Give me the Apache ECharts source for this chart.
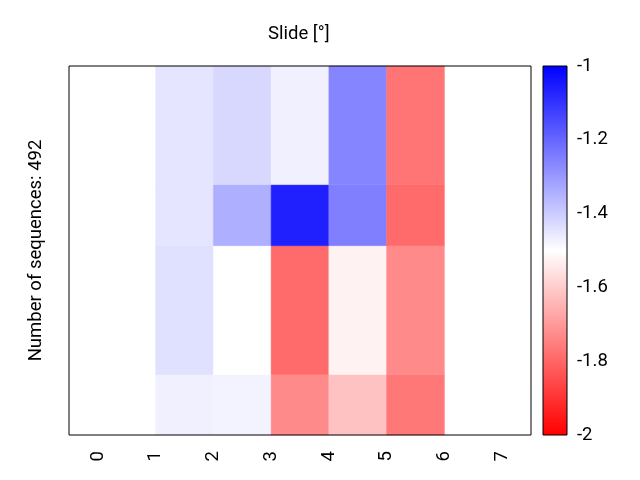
<!DOCTYPE html>
<html>
<head>
<meta charset="utf-8">
<script src="https://cdn.jsdelivr.net/npm/echarts@6/dist/echarts.min.js"></script>
<style>html,body{margin:0;padding:0;background:#fff}#c{width:640px;height:480px}</style>
</head>
<body>
<div id="c"></div>
<script>
// ---- data ----
const xLabels = ['0', '1', '2', '3', '4', '5', '6', '7'];
const xEdges = [0, 1, 2, 3, 4, 5, 6, 7];        // column edges (cells span xEdges[i]..xEdges[i+1])
const yEdges = [0, 1, 3.13, 4.14, 6.1];          // row edges, bottom to top
// values per row (bottom to top), per column 0..6 (null = no data)
const row0 = [null, -1.47, -1.477, -1.73, -1.62, -1.765, null];
const row1 = [null, -1.44, -1.5, -1.79, -1.525, -1.73, null];
const row2 = [null, -1.45, -1.343, -1.0625, -1.251, -1.792, null];
const row3 = [null, -1.45, -1.423, -1.47, -1.261, -1.77, null];
const rows = [row0, row1, row2, row3];
const cbTicks = [-2, -1.8, -1.6, -1.4, -1.2, -1];
const vMin = -2, vMax = -1;
const titleText = 'Slide [°]';
const yName = 'Number of sequences: 492';

const cells = [];
rows.forEach((r, j) => {
  r.forEach((v, i) => {
    if (v !== null) cells.push([xEdges[i], xEdges[i + 1], yEdges[j], yEdges[j + 1], v]);
  });
});

const FONT = 'Roboto';
const FS = 18.5;
const chart = echarts.init(document.getElementById('c'), null, {renderer: 'canvas'});
chart.setOption({
  animation: false,
  backgroundColor: '#fff',
  textStyle: {fontFamily: FONT},
  title: {
    text: titleText, left: 263, top: 20,
    textStyle: {fontFamily: FONT, fontSize: FS, fontWeight: 'normal', color: '#000'}
  },
  grid: [
    {left: 69, top: 66, width: 462, height: 369, show: true, borderColor: '#000', borderWidth: 1, backgroundColor: 'transparent', z: 10},
    {left: 543, top: 66, width: 24, height: 369, show: true, borderColor: '#000', borderWidth: 1, backgroundColor: 'transparent', z: 10}
  ],
  xAxis: [
    {type: 'value', gridIndex: 0, min: -0.5, max: 7.5, show: false},
    {type: 'category', gridIndex: 0, data: xLabels, boundaryGap: true, position: 'bottom',
     axisLine: {show: false}, axisTick: {show: false}, splitLine: {show: false},
     axisLabel: {rotate: 90, fontSize: FS, color: '#000', margin: 16, fontFamily: FONT}},
    {type: 'value', gridIndex: 1, min: 0, max: 1, show: false}
  ],
  yAxis: [
    {type: 'value', gridIndex: 0, min: yEdges[0], max: yEdges[yEdges.length - 1],
     axisLine: {show: false}, axisTick: {show: false}, axisLabel: {show: false}, splitLine: {show: false},
     name: yName, nameLocation: 'middle', nameGap: 23,
     nameTextStyle: {fontSize: FS, color: '#000', fontFamily: FONT}},
    {type: 'value', gridIndex: 1, min: vMin, max: vMax, interval: 0.2, position: 'right',
     axisLine: {show: false}, axisTick: {show: false}, splitLine: {show: false},
     axisLabel: {fontSize: FS, color: '#000', margin: 10, fontFamily: FONT,
       formatter: v => String(Math.round(v * 10) / 10)}}
  ],
  visualMap: {
    type: 'continuous', show: false, min: vMin, max: vMax, dimension: 4, seriesIndex: 0,
    inRange: {color: ['#ff0000', '#ffffff', '#0000ff']}
  },
  series: [
    {
      type: 'custom', xAxisIndex: 0, yAxisIndex: 0, data: cells,
      encode: {x: [0, 1], y: [2, 3]},
      renderItem: function (params, api) {
        const p0 = api.coord([api.value(0), api.value(3)]);
        const p1 = api.coord([api.value(1), api.value(2)]);
        return {type: 'rect',
          shape: {x: p0[0], y: p0[1], width: p1[0] - p0[0], height: p1[1] - p0[1]},
          style: {fill: api.visual('color'), stroke: api.visual('color'), lineWidth: 0.5}};
      }
    },
    {
      type: 'custom', xAxisIndex: 2, yAxisIndex: 1, data: [[0, 1, vMin, vMax]],
      renderItem: function (params, api) {
        const p0 = api.coord([api.value(0), api.value(3)]);
        const p1 = api.coord([api.value(1), api.value(2)]);
        return {type: 'rect',
          shape: {x: p0[0], y: p0[1], width: p1[0] - p0[0], height: p1[1] - p0[1]},
          style: {fill: new echarts.graphic.LinearGradient(0, 1, 0, 0, [
            {offset: 0, color: '#ff0000'}, {offset: 0.5, color: '#ffffff'}, {offset: 1, color: '#0000ff'}])}};
      }
    }
  ]
});
</script>
</body>
</html>
